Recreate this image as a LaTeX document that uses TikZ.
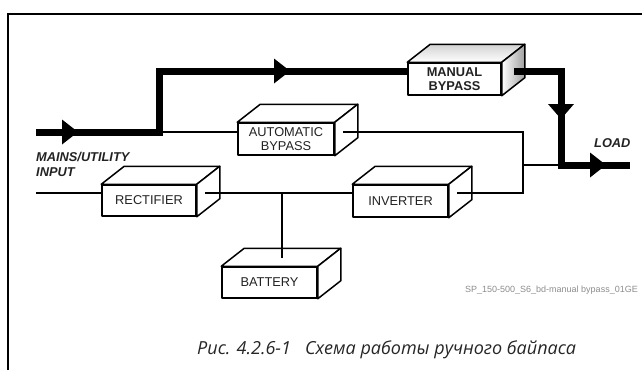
\documentclass[tikz,border=0pt]{standalone}
\usepackage{fontspec}
\setmainfont{Liberation Sans}
\newfontfamily\capfont{Open Sans}
\usetikzlibrary{calc}
\definecolor{txt}{HTML}{222222}
\newcommand{\boxfaces}[2]{%
  \draw[boxline,#2] (#1.north west) -- ($(#1.north west)+(23,-18)$) -- ($(#1.north east)+(23,-18)$) -- (#1.north east) -- cycle;
  \draw[boxline,#2] (#1.north east) -- ($(#1.north east)+(23,-18)$) -- ($(#1.south east)+(23,-18)$) -- (#1.south east) -- cycle;
}
\begin{document}
\begin{tikzpicture}[x=1pt,y=-1pt,
  boxline/.style={line width=1.5pt, line join=round, draw=black},
  unit/.style={boxline, fill=white, inner sep=0pt, minimum width=94pt, minimum height=31pt,
     font=\fontsize{12.8}{13.5}\selectfont, text=txt, align=center},
  thin/.style={line width=1.3pt},
  thick/.style={line width=7pt},
  lbl/.style={font=\fontsize{12.8}{14}\selectfont\bfseries\itshape, text=txt, inner sep=0pt, align=left},
  arr/.style={fill=black}]
\useasboundingbox (0,0) rectangle (642,370);
% frame
\draw[line width=2pt] (8,370) -- (8,14) -- (642,14);

% boxes (front faces)
\node[unit] (rect) at (149,200.5) {RECTIFIER};
\node[unit, minimum width=96pt, minimum height=32pt] (auto) at (286,139) {AUTOMATIC\\BYPASS};
\node[unit, minimum width=95pt, minimum height=32pt] (inv) at (400.5,201) {INVERTER};
\node[unit, minimum width=95pt] (batt) at (269.5,282.5) {BATTERY};
\node[unit, minimum width=93pt, minimum height=32pt, font=\fontsize{12.8}{14.5}\selectfont\bfseries] (man) at (454.5,79) {MANUAL\\BYPASS};

\boxfaces{rect}{fill=white}
\boxfaces{auto}{fill=white}
\boxfaces{inv}{fill=white}
\boxfaces{batt}{fill=white}
\draw[boxline, top color=gray!35, bottom color=white] (man.north west) -- ($(man.north west)+(23,-18)$) -- ($(man.north east)+(23,-18)$) -- (man.north east) -- cycle;
\draw[boxline, left color=white, right color=gray!75] (man.north east) -- ($(man.north east)+(23,-18)$) -- ($(man.south east)+(23,-18)$) -- (man.south east) -- cycle;

% coordinates
\coordinate (inL) at (36,132);
\coordinate (up) at (159,132);
\coordinate (upT) at (159,71);
\coordinate (manIn) at (man.west |- 0,71);
\coordinate (manOut) at (514,71);
\coordinate (dn) at (561,71);
\coordinate (ld) at (561,165);
\coordinate (loadEnd) at (630,165);
\coordinate (autoIn) at (auto.west |- 0,132);
\coordinate (autoOut) at (343,132);
\coordinate (bx) at (523,132);
\coordinate (bm) at (523,165);
\coordinate (bb) at (523,193);
\coordinate (recIn) at (36,193);
\coordinate (recW) at (rect.west |- 0,193);
\coordinate (recOut) at (205,193);
\coordinate (invW) at (inv.west |- 0,193);
\coordinate (invOut) at (457,193);
\coordinate (bj) at (282,193);
\coordinate (battTop) at (282,258);

% thin connectors
\draw[thin] (up) -- (autoIn);
\draw[thin] (autoOut) -- (bx) -- (bb) -- (invOut);
\draw[thin] (bm) -- (ld);
\draw[thin] (recIn) -- (recW);
\draw[thin] (recOut) -- (invW);
\draw[thin] (bj) -- (battTop);

% thick power path
\draw[thick] (inL) -- (up) -- (upT) -- (manIn);
\draw[thick] (manOut) -- (dn) -- (ld) -- (loadEnd);

% arrowheads
\fill[arr] (62,119.5) -- (78,132) -- (62,144.5) -- cycle;
\fill[arr] (274,58.5) -- (290,71) -- (274,83.5) -- cycle;
\fill[arr] (548,104) -- (574,104) -- (561,119) -- cycle;
\fill[arr] (590,152.5) -- (606,165) -- (590,177.5) -- cycle;

% labels
\node[lbl, anchor=base west] (mains) at (36,161.5) {MAINS/UTILITY};
\node[lbl, anchor=base west] (input) at (36,176) {INPUT};
\node[lbl, anchor=base west] (load) at (594,147) {LOAD};

\node[anchor=base east, inner sep=0pt, text=gray!90, font=\fontsize{9}{10}\selectfont] (code) at (638,292) {SP\_150-500\_S6\_bd-manual bypass\_01GE};

\node[anchor=base west, inner sep=0pt, text=black!85, font=\capfont\itshape\fontsize{18}{20}\selectfont] (cap) at (197,354) {Рис. 4.2.6-1\ \ \ Схема работы ручного байпаса};
\end{tikzpicture}
\end{document}
